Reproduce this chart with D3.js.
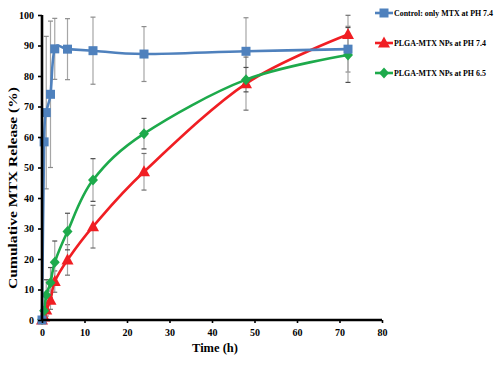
<!DOCTYPE html>
<html><head><meta charset="utf-8">
<script src="https://cdn.jsdelivr.net/npm/d3@7/dist/d3.min.js"></script>
<style>body{margin:0;background:#fff}svg{display:block}</style>
</head><body>
<svg id="c" width="500" height="376"></svg>
<script>
const times = [0, 0.5, 1, 2, 3, 6, 12, 24, 48, 72];
const controlVals = [0, 58.4, 68, 74, 88.9, 88.8, 88.3, 87.2, 88.1, 88.8];
const controlErr  = [0, 0, 25, 24, 10, 10, 11, 9, 11, 7.5];
const plga74Vals  = [0, 1, 3.3, 6.5, 12.6, 19.7, 30.6, 48.6, 77.5, 93.6];
const plga74Err   = [0, 1, 2, 3, 3.5, 5, 7, 6, 8.7, 6.3];
const plga65Vals  = [0.2, 3, 8.2, 12.2, 18.9, 29, 45.9, 61.1, 78.8, 86.9];
const plga65Err   = [0, 1, 5, 5, 7, 6, 7, 5, 4, 9];
const xTicks = [0, 10, 20, 30, 40, 50, 60, 70, 80];
const yTicks = [0, 10, 20, 30, 40, 50, 60, 70, 80, 90, 100];
const seriesNames = ["Control: only MTX at PH 7.4", "PLGA-MTX NPs at PH 7.4", "PLGA-MTX NPs at PH 6.5"];

const series = [
  {name: seriesNames[0], vals: controlVals, err: controlErr, color: "#4F81BD", marker: "square", errColor: "#a6a6a6", capColor: "#8c8c8c"},
  {name: seriesNames[1], vals: plga74Vals, err: plga74Err, color: "#F01E23", marker: "triangle", errColor: "#a6a6a6", capColor: "#707070"},
  {name: seriesNames[2], vals: plga65Vals, err: plga65Err, color: "#1DAA4B", marker: "diamond", errColor: "#a6a6a6", capColor: "#4d4d4d"}
];

const svg = d3.select("#c");
const x = d3.scaleLinear().domain([0, 80]).range([42, 382]);
const y = d3.scaleLinear().domain([0, 100]).range([320, 15]);
const font = "'Liberation Serif','Times New Roman',serif";

// error bars
series.forEach(s => {
  const g = svg.append("g");
  times.forEach((t, i) => {
    const e = s.err[i];
    if (!e) return;
    const cx = x(t);
    g.append("line").attr("x1", cx).attr("x2", cx)
      .attr("y1", y(s.vals[i] - e)).attr("y2", y(s.vals[i] + e))
      .attr("stroke", s.errColor).attr("stroke-width", 1.2);
    [s.vals[i] - e, s.vals[i] + e].forEach(v => {
      g.append("line").attr("x1", cx - 2.5).attr("x2", cx + 2.5)
        .attr("y1", y(v)).attr("y2", y(v))
        .attr("stroke", s.capColor).attr("stroke-width", 1.2);
    });
  });
});

const line = d3.line().x(d => x(d[0])).y(d => y(d[1])).curve(d3.curveCardinal.tension(0));

function drawMarker(g, type, cx, cy, color) {
  if (type === "square") {
    g.append("rect").attr("x", cx - 4.5).attr("y", cy - 4.5).attr("width", 9).attr("height", 9).attr("fill", color);
  } else if (type === "triangle") {
    g.append("path").attr("d", `M${cx},${cy - 6.5}L${cx + 6},${cy + 4.5}L${cx - 6},${cy + 4.5}Z`).attr("fill", color);
  } else {
    g.append("path").attr("d", `M${cx},${cy - 5.5}L${cx + 5},${cy}L${cx},${cy + 5.5}L${cx - 5},${cy}Z`).attr("fill", color);
  }
}

[1, 2, 0].forEach(k => {
  const s = series[k];
  const pts = times.map((t, i) => [t, s.vals[i]]);
  svg.append("path").datum(pts).attr("d", line)
    .attr("fill", "none").attr("stroke", s.color).attr("stroke-width", 2.6);
  const g = svg.append("g");
  pts.forEach(p => drawMarker(g, s.marker, x(p[0]), y(p[1]), s.color));
});

// axes
const yAxis = d3.axisLeft(y).tickValues(yTicks).tickSize(4).tickPadding(4);
const xAxis = d3.axisBottom(x).tickValues(xTicks).tickSize(3).tickPadding(6);
const gy = svg.append("g").attr("transform", `translate(${x(0)},0)`).call(yAxis);
const gx = svg.append("g").attr("transform", `translate(0,${y(0)})`).call(xAxis);
[gx, gy].forEach(g => {
  g.select(".domain").attr("stroke", "#000").attr("stroke-width", 2.6);
  g.selectAll(".tick line").attr("stroke", "#000").attr("stroke-width", 1.6);
  g.selectAll(".tick text").attr("font-family", font).attr("font-weight", "bold")
    .attr("font-size", 10).attr("fill", "#000");
});
gy.select(".domain").attr("d", `M0,${y(100)}V${y(0)}`);
gx.select(".domain").attr("d", `M${x(0)},0H${x(80)}`);

// titles
svg.append("text").attr("x", 215).attr("y", 352).attr("text-anchor", "middle")
  .attr("font-family", font).attr("font-weight", "bold").attr("font-size", 12.5).text("Time (h)");
svg.append("text").attr("transform", "translate(17,188) rotate(-90)").attr("text-anchor", "middle")
  .attr("font-family", font).attr("font-weight", "bold").attr("font-size", 13.5)
  .attr("textLength", 202).attr("lengthAdjust", "spacingAndGlyphs").text("Cumulative MTX Release (%)");

// legend
const legY = [13, 43, 73];
series.forEach((s, i) => {
  const g = svg.append("g");
  g.append("line").attr("x1", 375).attr("x2", 393).attr("y1", legY[i]).attr("y2", legY[i])
    .attr("stroke", s.color).attr("stroke-width", 2.6);
  drawMarker(g, s.marker, 384, legY[i], s.color);
  g.append("text").attr("x", 394).attr("y", legY[i] + 2.7)
    .attr("font-family", font).attr("font-weight", "bold").attr("font-size", 7.9).text(s.name);
});
</script>
</body></html>
